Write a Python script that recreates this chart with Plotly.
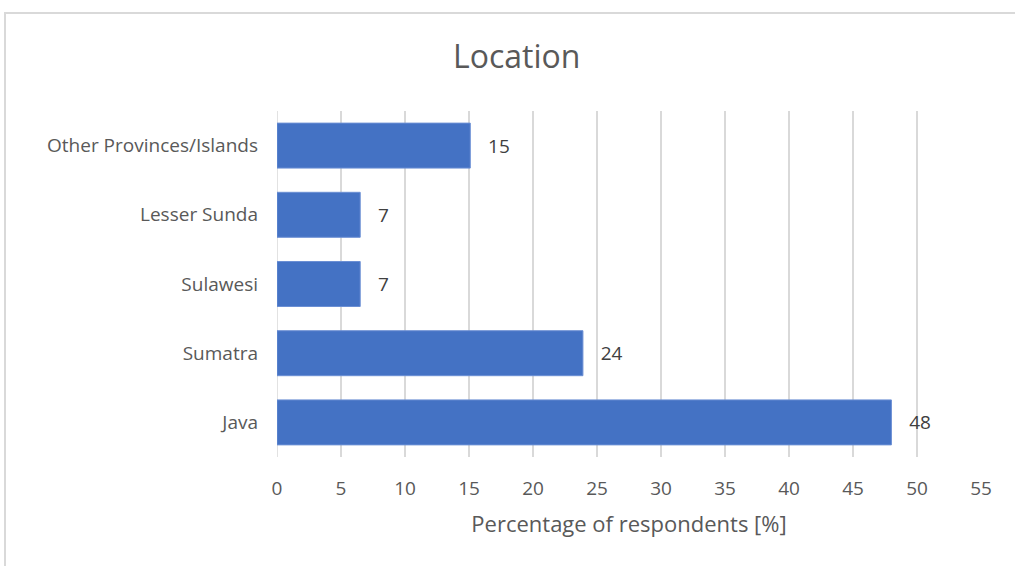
import plotly.graph_objects as go

categories = ["Java", "Sumatra", "Sulawesi", "Lesser Sunda", "Other Provinces/Islands"]
values = [48.0, 23.9, 6.5, 6.5, 15.1]
x_ticks = [0, 5, 10, 15, 20, 25, 30, 35, 40, 45, 50, 55]

FONT = "Open Sans, Lato, sans-serif"
NB = "\u00a0"

fig = go.Figure(go.Bar(
    y=categories, x=values, orientation="h",
    marker=dict(color="#4472C4", line=dict(color="#6b8fd4", width=1)),
    width=0.65,
    texttemplate=NB * 3 + "%{x:.0f}", textposition="outside",
    textfont=dict(family=FONT, size=19, color="#404040"),
    cliponaxis=False,
))

fig.update_layout(
    width=1015, height=566,
    margin=dict(l=277, r=34, t=111, b=109),
    paper_bgcolor="white", plot_bgcolor="white",
    showlegend=False,
    title=dict(text="Location", x=0.509, xref="container", y=0.9, yref="container",
               xanchor="center", yanchor="middle",
               font=dict(family=FONT, size=32, color="#595959")),
    xaxis=dict(range=[0, 55], tickvals=x_ticks, showgrid=True, gridcolor="#d9d9d9",
               gridwidth=1.5, zeroline=False, showline=False, ticks="",
               ticklabelstandoff=18,
               tickfont=dict(family=FONT, size=19, color="#595959"),
               title=dict(text="Percentage of respondents [%]", standoff=16,
                          font=dict(family=FONT, size=22, color="#595959"))),
    yaxis=dict(showgrid=False, zeroline=False, showline=False, ticks="",
               ticklabelstandoff=18,
               tickfont=dict(family=FONT, size=19, color="#595959")),
    shapes=[dict(type="line", xref="x", yref="paper", x0=0, x1=0, y0=0, y1=1,
                 line=dict(color="#d9d9d9", width=1.5), layer="below"),
            dict(type="rect", xref="paper", yref="paper",
                 x0=(5 - 277) / 704, x1=(1030 - 277) / 704,
                 y0=(457 - 580) / 346, y1=(457 - 13) / 346,
                 line=dict(color="#d9d9d9", width=2), layer="below")],
    bargap=0.35,
)

fig.write_html("out.html", config={"displayModeBar": False},
               post_script="document.body.style.margin='0';")
